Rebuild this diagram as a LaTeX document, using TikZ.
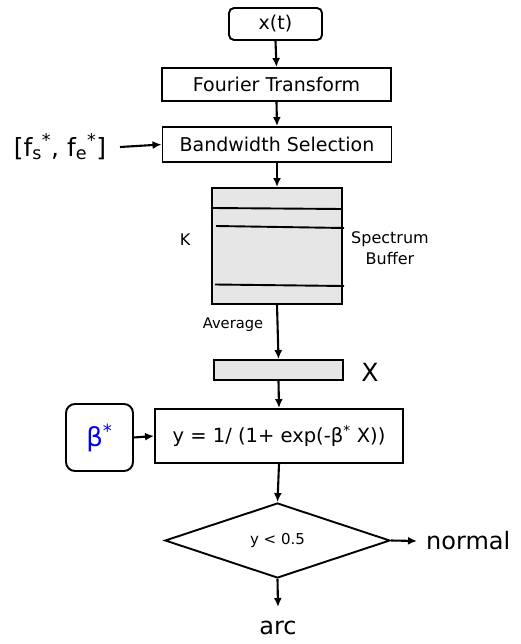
\documentclass[tikz,border=0pt]{standalone}
\usepackage{fontspec}
\setmainfont{DejaVu Sans}
\usetikzlibrary{shapes.geometric,arrows.meta}
\definecolor{bufgray}{HTML}{E6E6E6}
\tikzset{
  box/.style={draw=black, line width=1.9pt, inner sep=0pt, font=\fontsize{19}{22}\selectfont},
  arr/.style={line width=2.1pt, -{Latex[length=9pt,width=8pt]}},
  lbl/.style={inner sep=0pt},
}
\begin{document}
\begin{tikzpicture}[x=1pt,y=-1pt]
\useasboundingbox (0,0) rectangle (521,644);
\node[box, rounded corners=5pt, minimum width=93pt, minimum height=32pt] (xt) at (275.5,24) {x(t)};
\node[box, minimum width=229pt, minimum height=33pt] (ft) at (276.5,84.5) {Fourier Transform};
\node[box, minimum width=229pt, minimum height=35pt] (bw) at (277,144.5) {Bandwidth Selection};
\node[lbl, font=\fontsize{25}{28}\selectfont] (fs) at (60,147) {[f\textsubscript{s}\textsuperscript{*}, f\textsubscript{e}\textsuperscript{*}]};
\coordinate (fsend) at (120,147);
\node[box, fill=bufgray, minimum width=130pt, minimum height=116pt] (buf) at (277,246) {};
\draw[line width=1.9pt] (212,208) -- (342,209);
\draw[line width=1.9pt] (216,226) -- (344,228);
\draw[line width=1.9pt] (215,284.5) -- (344,286);
\node[lbl, font=\fontsize{16}{19}\selectfont] (k) at (185,240) {K};
\node[lbl, font=\fontsize{16}{21}\selectfont, align=center] (sb) at (390,248) {Spectrum\\Buffer};
\node[lbl, font=\fontsize{14.7}{18}\selectfont] (avg) at (233,325) {Average};
\node[box, fill=bufgray, minimum width=129pt, minimum height=20pt] (xb) at (278.5,370) {};
\node[lbl, font=\fontsize{25}{28}\selectfont] (xl) at (370,372) {X};
\node[box, font=\fontsize{19.5}{23}\selectfont, minimum width=248pt, minimum height=54pt] (fm) at (279,436) {y = 1/ (1+ exp(-β\textsuperscript{*} X))};
\node[box, rounded corners=9pt, minimum width=67pt, minimum height=67pt, text=blue, font=\fontsize{26}{30}\selectfont] (beta) at (99.5,437.5) {β\textsuperscript{*}};
\node[box, diamond, minimum width=225pt, minimum height=75pt, font=\fontsize{15}{18}\selectfont] (dia) at (277.5,540.5) {y < 0.5};
\coordinate (nend) at (417,541);
\coordinate (aend) at (278,607);
\node[lbl, anchor=west, font=\fontsize{24}{28}\selectfont] (normal) at (426,541) {normal};
\node[lbl, font=\fontsize{24}{28}\selectfont] (arc) at (278,628) {arc};
\draw[arr] (xt.south) -- (ft.north);
\draw[arr] (ft.south) -- (bw.north);
\draw[arr] (fsend) -- (bw.west);
\draw[arr] (bw.south) -- (buf.north);
\draw[arr] (buf.south) -- (xb.north);
\draw[arr] (xb.south) -- (fm.north);
\draw[arr] (beta.east) -- (fm.west);
\draw[arr] (fm.south) -- (dia.north);
\draw[arr] (dia.east) -- (nend);
\draw[arr] (dia.south) -- (aend);
\end{tikzpicture}
\end{document}
